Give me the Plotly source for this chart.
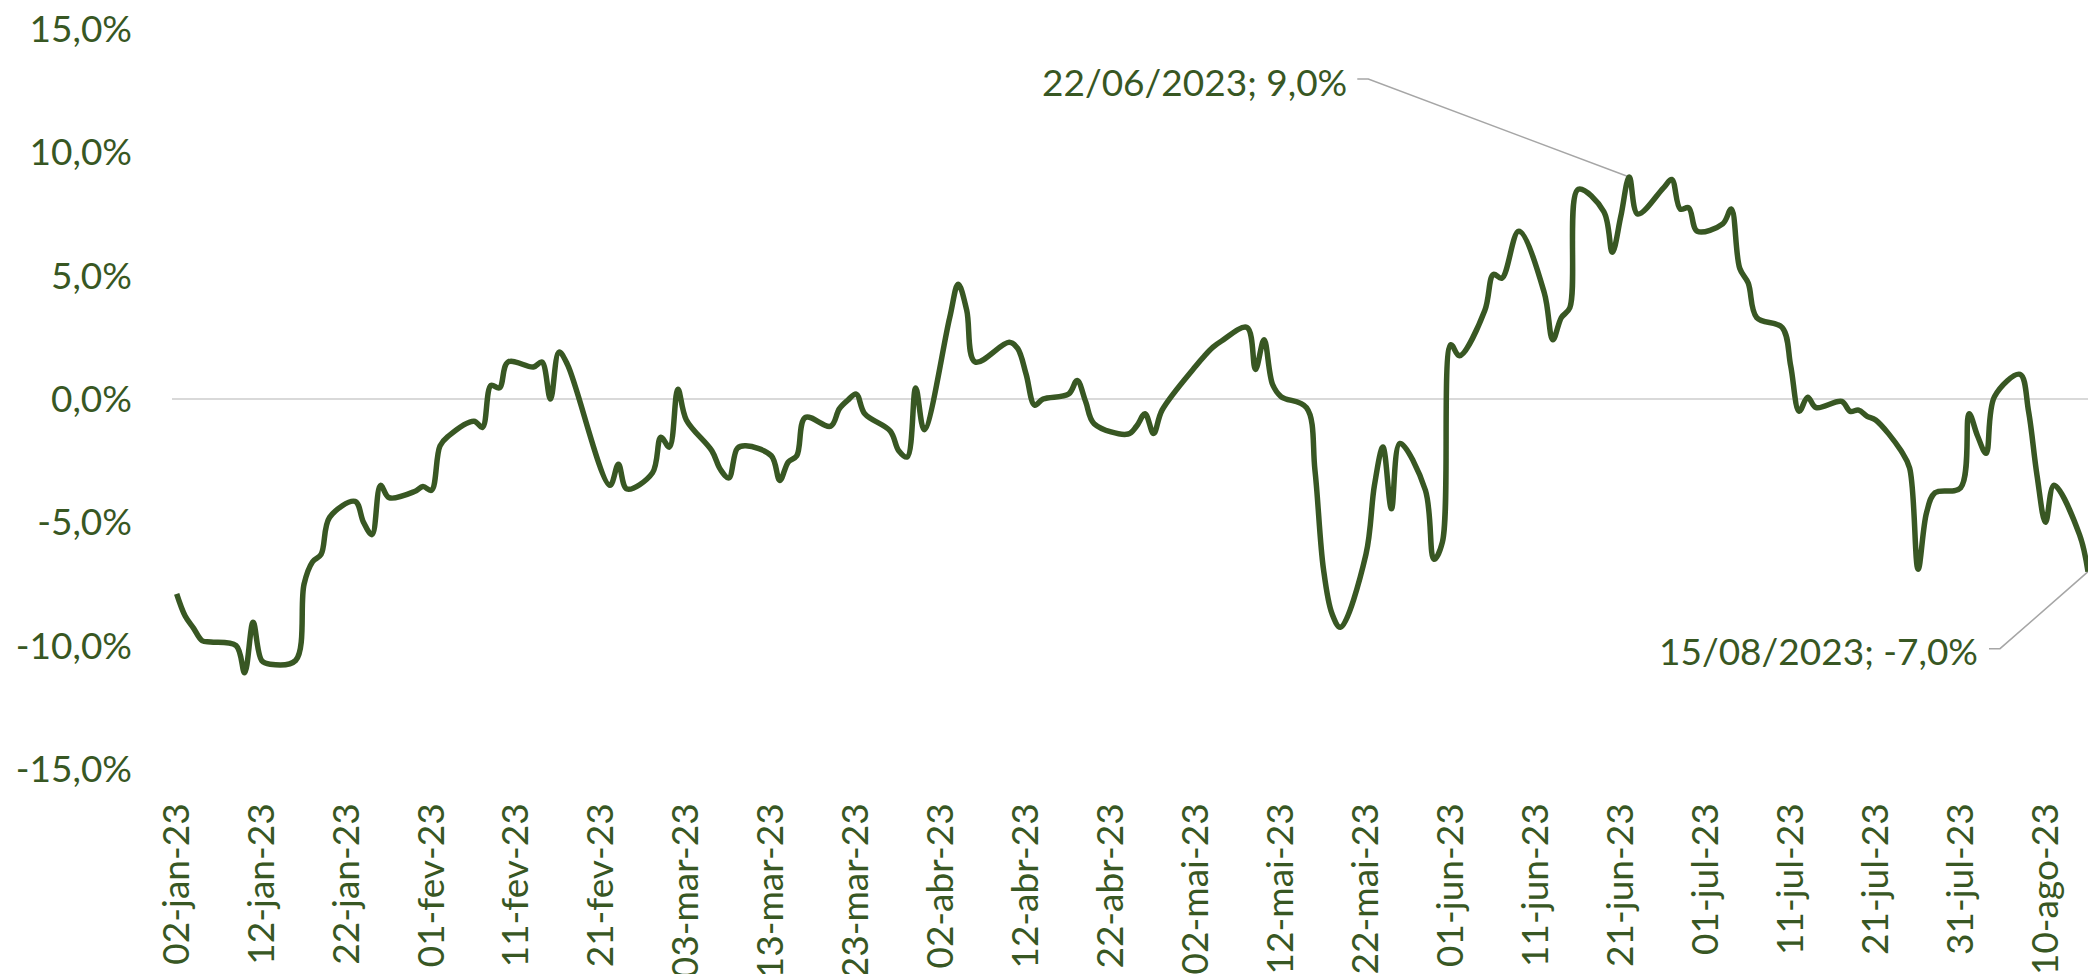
import plotly.graph_objects as go
from datetime import datetime

# ---------------- data ----------------
dates = [
    "2023-01-02", "2023-01-03", "2023-01-04", "2023-01-05", "2023-01-06",
    "2023-01-09", "2023-01-10", "2023-01-11", "2023-01-12", "2023-01-13",
    "2023-01-16", "2023-01-17", "2023-01-18", "2023-01-19", "2023-01-20",
    "2023-01-23", "2023-01-24", "2023-01-25", "2023-01-26", "2023-01-27",
    "2023-01-30", "2023-01-31", "2023-02-01", "2023-02-02", "2023-02-03",
    "2023-02-06", "2023-02-07", "2023-02-08", "2023-02-09", "2023-02-10",
    "2023-02-13", "2023-02-14", "2023-02-15", "2023-02-16", "2023-02-17",
    "2023-02-22", "2023-02-23", "2023-02-24",
    "2023-02-27", "2023-02-28", "2023-03-01", "2023-03-02", "2023-03-03",
    "2023-03-06", "2023-03-07", "2023-03-08", "2023-03-09", "2023-03-10",
    "2023-03-13", "2023-03-14", "2023-03-15", "2023-03-16", "2023-03-17",
    "2023-03-20", "2023-03-21", "2023-03-22", "2023-03-23", "2023-03-24",
    "2023-03-27", "2023-03-28", "2023-03-29", "2023-03-30", "2023-03-31",
    "2023-04-03", "2023-04-04", "2023-04-05", "2023-04-06",
    "2023-04-10", "2023-04-11", "2023-04-12", "2023-04-13", "2023-04-14",
    "2023-04-17", "2023-04-18", "2023-04-19", "2023-04-20",
    "2023-04-24", "2023-04-25", "2023-04-26", "2023-04-27", "2023-04-28",
    "2023-05-02", "2023-05-03", "2023-05-04", "2023-05-05",
    "2023-05-08", "2023-05-09", "2023-05-10", "2023-05-11", "2023-05-12",
    "2023-05-15", "2023-05-16", "2023-05-17", "2023-05-18", "2023-05-19",
    "2023-05-22", "2023-05-23", "2023-05-24", "2023-05-25", "2023-05-26",
    "2023-05-29", "2023-05-30", "2023-05-31", "2023-06-01", "2023-06-02",
    "2023-06-05", "2023-06-06", "2023-06-07", "2023-06-09",
    "2023-06-12", "2023-06-13", "2023-06-14", "2023-06-15", "2023-06-16",
    "2023-06-19", "2023-06-20", "2023-06-21", "2023-06-22", "2023-06-23",
    "2023-06-26", "2023-06-27", "2023-06-28", "2023-06-29", "2023-06-30",
    "2023-07-03", "2023-07-04", "2023-07-05", "2023-07-06", "2023-07-07",
    "2023-07-10", "2023-07-11", "2023-07-12", "2023-07-13", "2023-07-14",
    "2023-07-17", "2023-07-18", "2023-07-19", "2023-07-20", "2023-07-21",
    "2023-07-24", "2023-07-25", "2023-07-26", "2023-07-27", "2023-07-28",
    "2023-07-31", "2023-08-01", "2023-08-02", "2023-08-03", "2023-08-04",
    "2023-08-07", "2023-08-08", "2023-08-09", "2023-08-10", "2023-08-11",
    "2023-08-14", "2023-08-15",
]

values = [
    -7.9, -8.8, -9.3, -9.8, -9.85,
    -10.0, -11.1, -9.05, -10.6, -10.75,
    -10.6, -7.5, -6.6, -6.3, -4.8,
    -4.15, -5.0, -5.5, -3.5, -4.0,
    -3.75, -3.55, -3.7, -1.9, -1.5,
    -0.9, -1.15, 0.55, 0.45, 1.5,
    1.3, 1.5, 0.0, 1.9, 1.4,
    -3.5, -2.65, -3.65,
    -3.0, -1.55, -1.95, 0.4, -0.85,
    -2.1, -2.85, -3.2, -2.0, -1.9,
    -2.3, -3.3, -2.55, -2.3, -0.75,
    -1.1, -0.4, -0.05, 0.2, -0.6,
    -1.3, -2.1, -2.35, 0.45, -1.25,
    3.3, 4.65, 3.6, 1.5,
    2.3, 2.05, 1.0, -0.25, 0.0,
    0.2, 0.75, -0.1, -1.0,
    -1.42, -1.1, -0.6, -1.4, -0.45,
    1.35, 1.75, 2.1, 2.35,
    2.9, 1.2, 2.4, 0.6, 0.1,
    -0.35, -2.9, -6.9, -8.7, -9.25,
    -6.3, -3.5, -1.95, -4.45, -1.8,
    -3.7, -6.5, -5.8, 2.2, 1.75,
    3.6, 5.05, 4.9, 6.8,
    4.3, 2.4, 3.3, 3.7, 8.5,
    7.6, 5.95, 7.4, 9.0, 7.5,
    8.55, 8.9, 7.7, 7.75, 6.8,
    7.1, 7.7, 5.3, 4.7, 3.3,
    2.9, 1.35, -0.5, 0.07, -0.35,
    -0.1, -0.5, -0.45, -0.7, -0.85,
    -2.1, -2.8, -6.9, -4.6, -3.8,
    -3.6, -0.6, -1.5, -2.2, 0.1,
    1.0, -0.5, -3.1, -5.0, -3.5,
    -5.5, -7.0,
]

tick_dates = [
    "2023-01-02", "2023-01-12", "2023-01-22", "2023-02-01", "2023-02-11",
    "2023-02-21", "2023-03-03", "2023-03-13", "2023-03-23", "2023-04-02",
    "2023-04-12", "2023-04-22", "2023-05-02", "2023-05-12", "2023-05-22",
    "2023-06-01", "2023-06-11", "2023-06-21", "2023-07-01", "2023-07-11",
    "2023-07-21", "2023-07-31", "2023-08-10",
]
tick_labels = [
    "02-jan-23", "12-jan-23", "22-jan-23", "01-fev-23", "11-fev-23",
    "21-fev-23", "03-mar-23", "13-mar-23", "23-mar-23", "02-abr-23",
    "12-abr-23", "22-abr-23", "02-mai-23", "12-mai-23", "22-mai-23",
    "01-jun-23", "11-jun-23", "21-jun-23", "01-jul-23", "11-jul-23",
    "21-jul-23", "31-jul-23", "10-ago-23",
]
y_ticks = [-15, -10, -5, 0, 5, 10, 15]
y_labels = ["-15,0%", "-10,0%", "-5,0%", "0,0%", "5,0%", "10,0%", "15,0%"]

# ---------------- style ----------------
GREEN = "#385723"
GREY_LINE = "#a6a6a6"
FONT = "Lato"
FS = 37


def label_for(i):
    d = datetime.strptime(dates[i], "%Y-%m-%d")
    return f"{d:%d/%m/%Y}; {values[i]:.1f}%".replace(".", ",")


fig = go.Figure()
fig.add_trace(go.Scatter(
    x=dates, y=values, mode="lines",
    line=dict(color=GREEN, width=5.5, shape="spline", smoothing=1.0),
    hoverinfo="skip", showlegend=False,
))

i_max = max(range(len(values)), key=lambda k: values[k])
i_last = len(values) - 1

annots = [
    # (index, text xshift, text yshift, leader path relative to point in px)
    (i_max, -280, 96, "M -272,98 L -261,98 L 0,0"),
    (i_last, -108, -79, "M -99,-77 L -88,-77 L 0,0"),
]
for idx, xs, ys, path in annots:
    fig.add_shape(
        type="path", xref="x", yref="y",
        xsizemode="pixel", ysizemode="pixel",
        xanchor=dates[idx], yanchor=values[idx],
        path=path, line=dict(color=GREY_LINE, width=1.5),
        layer="below",
    )
    fig.add_annotation(
        x=dates[idx], y=values[idx], xref="x", yref="y",
        text=label_for(idx), showarrow=False,
        xanchor="right", yanchor="middle", xshift=xs, yshift=ys,
        font=dict(family=FONT, size=FS, color=GREEN),
    )

fig.update_layout(
    width=2088, height=974,
    margin=dict(l=172, r=0, t=29, b=205, pad=0, autoexpand=False),
    paper_bgcolor="white", plot_bgcolor="white",
    font=dict(family=FONT, size=FS, color=GREEN),
    showlegend=False,
)
fig.update_xaxes(
    type="date", automargin=False,
    range=["2023-01-01 10:48", "2023-08-15 00:00"],
    tickmode="array", tickvals=tick_dates, ticktext=tick_labels,
    tickangle=-90, ticks="", showgrid=False, showline=False, zeroline=False,
    tickfont=dict(family=FONT, size=FS, color=GREEN),
    ticklabelstandoff=26,
)
fig.update_yaxes(
    automargin=False,
    range=[-15, 15],
    tickmode="array", tickvals=y_ticks, ticktext=y_labels,
    ticks="", showgrid=False, showline=False,
    zeroline=True, zerolinecolor="#d9d9d9", zerolinewidth=2,
    tickfont=dict(family=FONT, size=FS, color=GREEN),
    ticklabelstandoff=39,
)

fig.write_html(
    "out.html",
    config={"displayModeBar": False, "staticPlot": True},
    post_script="document.body.style.margin='0px';"
                "document.body.style.overflow='hidden';",
)
